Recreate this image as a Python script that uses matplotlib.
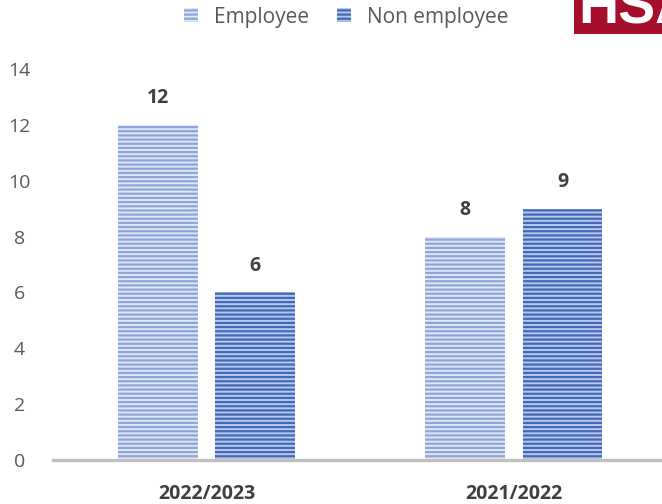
import matplotlib
matplotlib.use("Agg")
import matplotlib.pyplot as plt
from matplotlib.patches import Patch, Rectangle
import numpy as np

categories = ["2022/2023", "2021/2022"]
employee = [12, 8]
non_employee = [6, 9]
series_names = ["Employee", "Non employee"]
yticks = [0, 2, 4, 6, 8, 10, 12, 14]

plt.rcParams["font.family"] = ["Open Sans", "DejaVu Sans"]
plt.rcParams["hatch.linewidth"] = 1.6

fig = plt.figure(figsize=(6.62, 5.04), dpi=100)
ax = fig.add_axes([0.080, 0.0873, 0.928, 0.776])

x = np.arange(len(categories))
w = 0.26
off = 0.159

emp_face, emp_hatch = "#E1E7F5", "#8FA5D9"
non_face, non_hatch = "#B9C8EA", "#4169B8"

b1 = ax.bar(x - off, employee, w, color=emp_face, edgecolor=emp_hatch,
            hatch="----", linewidth=0)
b2 = ax.bar(x + off, non_employee, w, color=non_face, edgecolor=non_hatch,
            hatch="----", linewidth=0)

for bars, vals in ((b1, employee), (b2, non_employee)):
    for bar, v in zip(bars, vals):
        ax.annotate(f"{v}", (bar.get_x() + bar.get_width() / 2, v),
                    xytext=(0, 12), textcoords="offset points",
                    ha="center", va="bottom", fontsize=14,
                    fontweight="bold", color="#404040")

ax.set_xlim(-0.5, 1.5)
ax.set_ylim(0, 14)
ax.set_yticks(yticks)
ax.set_yticklabels([str(t) for t in yticks], fontsize=14, color="#595959",
                   ha="center")
ax.tick_params(axis="y", length=0, pad=24)
ax.set_xticks(x)
ax.set_xticklabels(categories, fontsize=14, fontweight="bold", color="#404040")
ax.tick_params(axis="x", length=0, pad=17)

for s in ("top", "right", "left"):
    ax.spines[s].set_visible(False)
ax.spines["bottom"].set_color("#BFBFBF")
ax.spines["bottom"].set_linewidth(2.4)

handles = [Patch(facecolor=emp_face, edgecolor=emp_hatch, hatch="----", linewidth=0),
           Patch(facecolor=non_face, edgecolor=non_hatch, hatch="----", linewidth=0)]
fig.legend(handles, series_names, loc="center", bbox_to_anchor=(0.523, 0.966),
           ncol=2, frameon=False, fontsize=15, handlelength=0.67,
           handleheight=0.67, handletextpad=0.76, columnspacing=1.38,
           labelcolor="#595959")

# logo block in the top-right corner
fig.patches.append(Rectangle((0.867, 0.9325), 0.2, 0.1, transform=fig.transFigure,
                             facecolor="#A50F2D", edgecolor="none", zorder=5))
fig.text(0.874, 0.954, "HSA", transform=fig.transFigure, fontsize=40,
         fontweight="bold", color="white", ha="left", va="baseline",
         family=["Liberation Sans", "DejaVu Sans"], zorder=6)

fig.savefig("out.png", dpi=100)
